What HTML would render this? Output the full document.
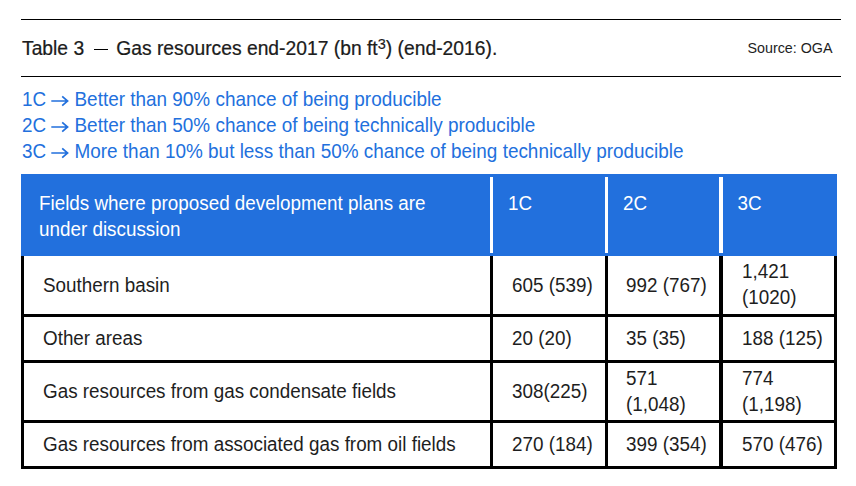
<!DOCTYPE html>
<html><head><meta charset="utf-8">
<style>
html,body{margin:0;padding:0;background:#fff;width:856px;height:486px;overflow:hidden;position:relative;font-family:"Liberation Sans",sans-serif;color:#1e1e1e}
.a{position:absolute;white-space:nowrap}
.rule{position:absolute;left:21px;width:820px;height:1px;background:#000}
.blk{position:absolute;background:#000}
.wht{position:absolute;background:#fff}
.t{position:absolute;white-space:nowrap;font-size:18.85px;line-height:24.5px;transform:scaleY(1.06);transform-origin:0 6px}
.leg{color:#2270dd}
.hd{color:#fff}
</style></head><body>
<div class="rule" style="top:19px"></div>
<div class="rule" style="top:76px"></div>
<div class="a" style="left:22px;top:37px;font-size:19.3px;line-height:24px;-webkit-text-stroke:0.2px #000">Table 3 <span style="display:inline-block;width:14.3px;height:1.5px;background:#000;vertical-align:5px;margin:0 3px 0 4px"></span> Gas resources end-2017 (bn ft<span style="font-size:14.5px;position:relative;top:-6px;-webkit-text-stroke:0.15px #000">3</span>) (end-2016).</div>
<div class="a" style="left:747.5px;top:38px;font-size:14.3px;line-height:20px">Source: OGA</div>

<div class="t leg" style="left:22px;top:87px">1C</div>
<svg class="a" style="left:50px;top:95px" width="20" height="12" viewBox="0 0 20 12"><path d="M1.3 6 H18 M12.2 1.3 L17.6 6 L12.2 10.7" fill="none" stroke="#2270dd" stroke-width="1.7" stroke-linejoin="miter" stroke-linecap="butt"/></svg>
<div class="t leg" style="left:74.5px;top:87px;font-size:18.93px">Better than 90% chance of being producible</div>
<div class="t leg" style="left:22px;top:113px">2C</div>
<svg class="a" style="left:50px;top:121px" width="20" height="12" viewBox="0 0 20 12"><path d="M1.3 6 H18 M12.2 1.3 L17.6 6 L12.2 10.7" fill="none" stroke="#2270dd" stroke-width="1.7" stroke-linejoin="miter" stroke-linecap="butt"/></svg>
<div class="t leg" style="left:74.5px;top:113px;font-size:18.93px">Better than 50% chance of being technically producible</div>
<div class="t leg" style="left:22px;top:139px">3C</div>
<svg class="a" style="left:50px;top:147px" width="20" height="12" viewBox="0 0 20 12"><path d="M1.3 6 H18 M12.2 1.3 L17.6 6 L12.2 10.7" fill="none" stroke="#2270dd" stroke-width="1.7" stroke-linejoin="miter" stroke-linecap="butt"/></svg>
<div class="t leg" style="left:74.5px;top:139px;font-size:18.93px">More than 10% but less than 50% chance of being technically producible</div>

<!-- header -->
<div style="position:absolute;left:21px;top:174px;width:816px;height:82px;background:#2270dd"></div>
<div class="wht" style="left:490px;top:177px;width:3px;height:76px"></div>
<div class="wht" style="left:605px;top:177px;width:3px;height:76px"></div>
<div class="wht" style="left:719px;top:177px;width:4px;height:76px"></div>
<div class="t hd" style="left:39px;top:191px">Fields where proposed development plans are<br>under discussion</div>
<div class="t hd" style="left:508px;top:191px">1C</div>
<div class="t hd" style="left:623px;top:191px">2C</div>
<div class="t hd" style="left:737.5px;top:191px">3C</div>

<!-- body borders -->
<div class="blk" style="left:21px;top:256px;width:3px;height:213px"></div>
<div class="blk" style="left:834px;top:256px;width:3px;height:213px"></div>
<div class="blk" style="left:490px;top:256px;width:3px;height:213px"></div>
<div class="blk" style="left:605px;top:256px;width:3px;height:213px"></div>
<div class="blk" style="left:719px;top:256px;width:4px;height:213px"></div>
<div class="blk" style="left:21px;top:314px;width:816px;height:3px"></div>
<div class="blk" style="left:21px;top:360px;width:816px;height:3px"></div>
<div class="blk" style="left:21px;top:420px;width:816px;height:3px"></div>
<div class="blk" style="left:21px;top:466px;width:816px;height:3px"></div>

<!-- row1 -->
<div class="t" style="left:43px;top:273px">Southern basin</div>
<div class="t" style="left:512px;top:273px">605 (539)</div>
<div class="t" style="left:626px;top:273px">992 (767)</div>
<div class="t" style="left:742px;top:259px">1,421<br>(1020)</div>
<!-- row2 -->
<div class="t" style="left:43px;top:326px">Other areas</div>
<div class="t" style="left:512px;top:326px">20 (20)</div>
<div class="t" style="left:626px;top:326px">35 (35)</div>
<div class="t" style="left:742px;top:326px">188 (125)</div>
<!-- row3 -->
<div class="t" style="left:43px;top:379px">Gas resources from gas condensate fields</div>
<div class="t" style="left:512px;top:379px">308(225)</div>
<div class="t" style="left:626px;top:366px">571<br>(1,048)</div>
<div class="t" style="left:742px;top:366px">774<br>(1,198)</div>
<!-- row4 -->
<div class="t" style="left:43px;top:432px">Gas resources from associated gas from oil fields</div>
<div class="t" style="left:512px;top:432px">270 (184)</div>
<div class="t" style="left:626px;top:432px">399 (354)</div>
<div class="t" style="left:742px;top:432px">570 (476)</div>
</body></html>
